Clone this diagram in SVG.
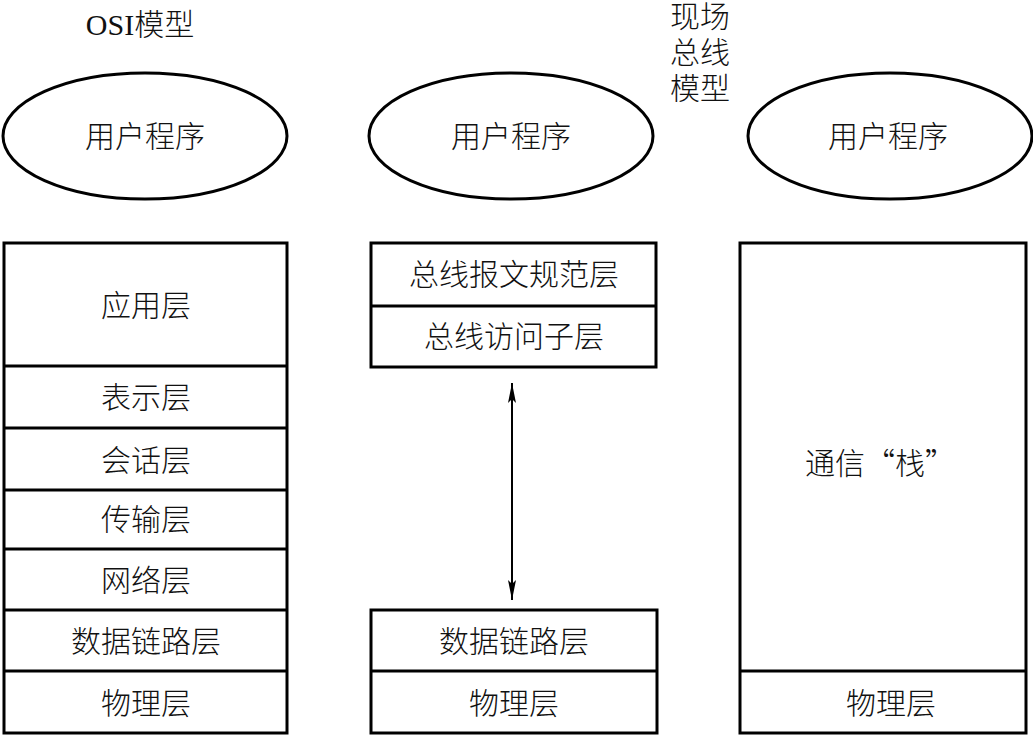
<svg xmlns="http://www.w3.org/2000/svg" width="1033" height="735" viewBox="0 0 1033 735">
<style>
.s{fill:#fff;stroke:#000;stroke-width:3}
.d{stroke:#000;stroke-width:3}
text{font-family:"Liberation Serif","Noto Sans CJK SC",serif;font-size:30px;fill:#111;text-anchor:middle}
.c{font-family:"Noto Sans CJK SC",sans-serif;font-weight:300}
</style>
<defs>
<marker id="ah" viewBox="0 0 20 8" refX="20" refY="4" markerWidth="20" markerHeight="8" markerUnits="userSpaceOnUse" orient="auto-start-reverse">
<path d="M0,0 L20,4 L0,8 L4,4 Z" fill="#000"/>
</marker>
</defs>
<rect width="1033" height="735" fill="#fff"/>
<g id="titles">
<text x="140" y="35">OSI<tspan class="c">模型</tspan></text>
<text class="c" x="700" y="27"><tspan x="700" y="27">现场</tspan><tspan x="700" y="63">总线</tspan><tspan x="700" y="99">模型</tspan></text>
</g>
<g id="user-osi"><ellipse class="s" cx="145" cy="136" rx="142" ry="63"/><text class="c" x="145" y="147">用户程序</text></g>
<g id="user-fb"><ellipse class="s" cx="511" cy="136" rx="142" ry="63"/><text class="c" x="511" y="147">用户程序</text></g>
<g id="user-stack"><ellipse class="s" cx="890" cy="136" rx="142" ry="63"/><text class="c" x="888" y="147">用户程序</text></g>
<g id="osi-stack">
<rect class="s" x="4" y="243" width="283" height="490"/>
<line class="d" x1="4" y1="366" x2="287" y2="366"/>
<line class="d" x1="4" y1="428" x2="287" y2="428"/>
<line class="d" x1="4" y1="490" x2="287" y2="490"/>
<line class="d" x1="4" y1="549" x2="287" y2="549"/>
<line class="d" x1="4" y1="610" x2="287" y2="610"/>
<line class="d" x1="4" y1="671" x2="287" y2="671"/>
<text class="c" x="146" y="316">应用层</text>
<text class="c" x="146" y="408">表示层</text>
<text class="c" x="146" y="471">会话层</text>
<text class="c" x="146" y="530">传输层</text>
<text class="c" x="146" y="591">网络层</text>
<text class="c" x="146" y="652">数据链路层</text>
<text class="c" x="146" y="714">物理层</text>
</g>
<g id="fb-upper">
<rect class="s" x="371" y="243" width="285" height="124"/>
<line class="d" x1="371" y1="306" x2="656" y2="306"/>
<text class="c" x="514" y="285">总线报文规范层</text>
<text class="c" x="514" y="347">总线访问子层</text>
</g>
<g id="fb-lower">
<rect class="s" x="371" y="610" width="286" height="123"/>
<line class="d" x1="371" y1="671" x2="657" y2="671"/>
<text class="c" x="514" y="652">数据链路层</text>
<text class="c" x="514" y="714">物理层</text>
</g>
<g id="comm-stack">
<rect class="s" x="740" y="243" width="286" height="490"/>
<line class="d" x1="740" y1="671" x2="1026" y2="671"/>
<text class="c" x="880" y="474">通信“栈”</text>
<text class="c" x="891" y="714">物理层</text>
</g>
<g id="connectors">
<line x1="512" y1="383" x2="512" y2="600" stroke="#000" stroke-width="2" marker-start="url(#ah)" marker-end="url(#ah)"/>
</g>
</svg>
